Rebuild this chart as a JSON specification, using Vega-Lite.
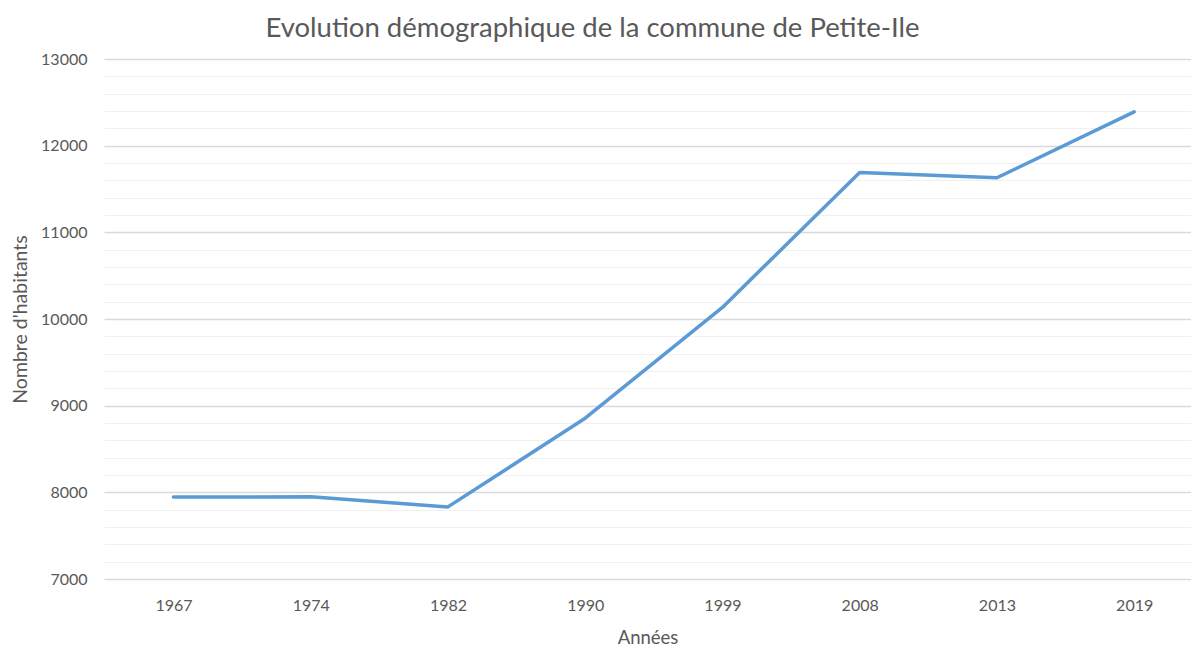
{
  "$schema": "https://vega.github.io/schema/vega-lite/v6.json",
  "autosize": {"type": "none"},
  "padding": {"left": 104, "top": 59, "right": 0, "bottom": 69},
  "width": 1087,
  "height": 520,
  "background": "white",
  "title": {
    "text": "Evolution démographique de la commune de Petite-Ile",
    "font": "Lato",
    "fontSize": 27.5,
    "fontWeight": "normal",
    "color": "#595959",
    "anchor": "middle",
    "dx": -55,
    "offset": 9
  },
  "data": {
    "values": [
      {"annee": "1967", "habitants": 7946},
      {"annee": "1974", "habitants": 7948},
      {"annee": "1982", "habitants": 7832},
      {"annee": "1990", "habitants": 8855},
      {"annee": "1999", "habitants": 10134},
      {"annee": "2008", "habitants": 11690},
      {"annee": "2013", "habitants": 11630},
      {"annee": "2019", "habitants": 12390}
    ]
  },
  "mark": {"type": "line", "color": "#5b9bd5", "strokeWidth": 3.5, "strokeCap": "round", "strokeJoin": "round"},
  "encoding": {
    "x": {
      "field": "annee",
      "type": "ordinal",
      "sort": null,
      "scale": {"type": "point", "padding": 0.46, "align": 0.55},
      "axis": {
        "title": "Années",
        "titleFont": "Lato",
        "titleFontSize": 18.5,
        "titleFontWeight": "normal",
        "titleColor": "#595959",
        "titlePadding": 15,
        "labelFont": "Lato",
        "labelFontSize": 16,
        "labelColor": "#595959",
        "labelAngle": 0,
        "labelPadding": 18,
        "ticks": false,
        "domain": false,
        "grid": false
      }
    },
    "y": {
      "field": "habitants",
      "type": "quantitative",
      "scale": {"domain": [7000, 13000], "nice": false, "zero": false},
      "axis": {
        "title": "Nombre d'habitants",
        "titleFont": "Lato",
        "titleFontSize": 19.5,
        "titleFontWeight": "normal",
        "titleColor": "#595959",
        "titlePadding": 10,
        "values": [7000, 7200, 7400, 7600, 7800, 8000, 8200, 8400, 8600, 8800, 9000, 9200, 9400, 9600, 9800, 10000, 10200, 10400, 10600, 10800, 11000, 11200, 11400, 11600, 11800, 12000, 12200, 12400, 12600, 12800, 13000],
        "format": "d",
        "labelExpr": "datum.value % 1000 === 0 ? datum.label : ''",
        "labelFont": "Lato",
        "labelFontSize": 16,
        "labelColor": "#595959",
        "labelPadding": 17,
        "ticks": false,
        "domain": false,
        "grid": true,
        "gridColor": {"condition": {"test": "datum.value % 1000 === 0", "value": "#d9d9d9"}, "value": "#f0f0f0"},
        "gridWidth": {"condition": {"test": "datum.value % 1000 === 0", "value": 1.5}, "value": 1}
      }
    }
  },
  "config": {"view": {"stroke": null}}
}
